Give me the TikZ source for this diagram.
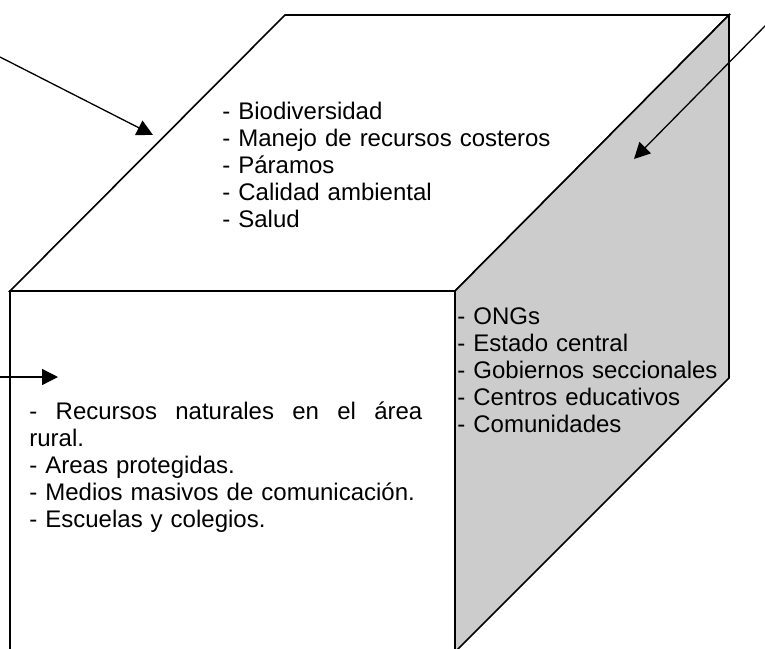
\documentclass[tikz,border=0pt]{standalone}
\usepackage{fontspec}
\setmainfont{Liberation Sans}
\usetikzlibrary{arrows.meta}
\definecolor{sidegray}{RGB}{204,204,204}
\begin{document}
\begin{tikzpicture}[x=0.5pt,y=-0.5pt,
        face/.style={draw,line width=0.8pt,line join=miter},
        list node/.style={anchor=base west,inner sep=0pt,align=left,
            font=\fontsize{12}{13.5}\selectfont},
        pointer/.style={-{Triangle[length=8pt,width=8pt]},line width=0.65pt}]

    \useasboundingbox (0,0) rectangle (765,648);
    \clip (0,0) rectangle (765,648);

    \coordinate (frontTL) at (10,291);
    \coordinate (frontTR) at (455,291);
    \coordinate (backL) at (285,15);
    \coordinate (backR) at (729,15);
    \coordinate (sideBR) at (729,378);
    \coordinate (sideBL) at (455,652);

    \filldraw[face,fill=white] (frontTL) -- (frontTR) -- (455,660) -- (10,660) -- cycle;
    \filldraw[face,fill=white] (frontTL) -- (backL) -- (backR) -- (frontTR) -- cycle;
    \filldraw[face,fill=sidegray] (frontTR) -- (backR) -- (sideBR) -- (sideBL) -- cycle;

    \node[list node,text width=180pt] (topList) at (222,119)
        {- Biodiversidad\\- Manejo de recursos costeros\\- P\'aramos\\- Calidad ambiental\\- Salud};
    \node[list node,text width=140pt] (sideList) at (457,324)
        {- ONGs\\- Estado central\\- Gobiernos seccionales\\- Centros educativos\\- Comunidades};
    \node[list node,text width=196.5pt] (frontList) at (29,419)
        {\makebox[196.5pt]{-\hfill Recursos\hfill naturales\hfill en\hfill el\hfill \'area}\\rural.\\
         - Areas protegidas.\\- Medios masivos de comunicaci\'on.\\- Escuelas y colegios.};

    \coordinate (topFrom) at (0,57);
    \coordinate (topTo) at (153,135);
    \coordinate (sideFrom) at (766,25);
    \coordinate (sideTo) at (634,159);
    \coordinate (frontFrom) at (0,377);
    \coordinate (frontTo) at (58,377);

    \path[pointer]
    (topFrom) edge (topTo)
    (sideFrom) edge (sideTo)
    (frontFrom) edge (frontTo);
\end{tikzpicture}
\end{document}
